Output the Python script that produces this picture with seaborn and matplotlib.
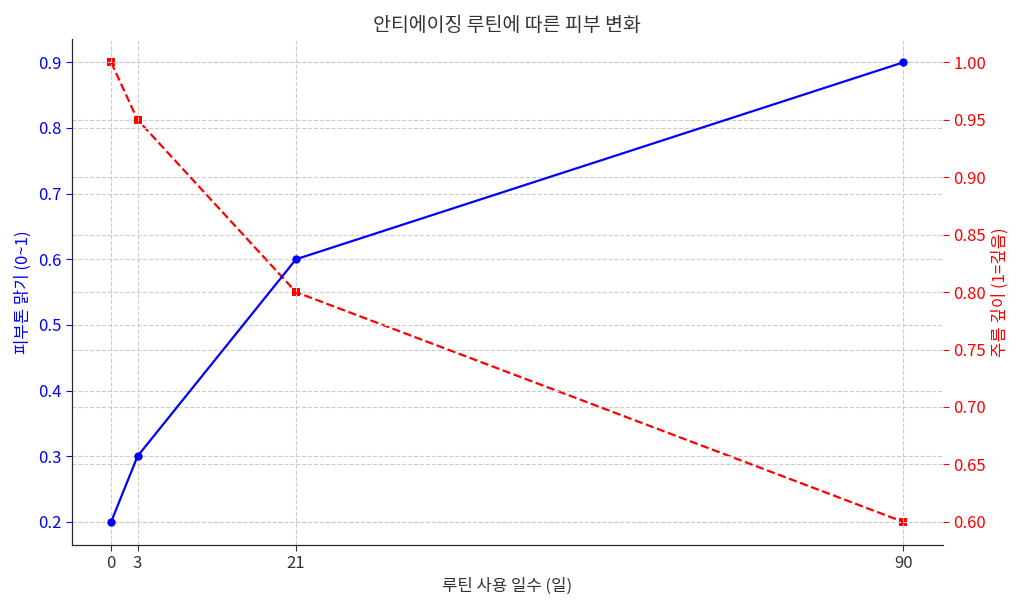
import matplotlib
matplotlib.use("Agg")
import matplotlib.pyplot as plt
import seaborn as sns
import pandas as pd

days = [0, 3, 21, 90]
brightness = [0.2, 0.3, 0.6, 0.9]
wrinkle = [1.0, 0.95, 0.8, 0.6]

sns.set_style("white")
plt.rcParams['font.family'] = ['Noto Sans CJK KR', 'DejaVu Sans']
plt.rcParams['axes.unicode_minus'] = False

df = pd.DataFrame({"day": days, "b": brightness, "w": wrinkle})
fig, ax1 = plt.subplots(figsize=(10.24, 6.1), dpi=100)
sns.lineplot(data=df, x="day", y="b", ax=ax1, color="blue", marker="o",
             markersize=6, markeredgewidth=0, linewidth=1.6)
ax1.set_xlabel("루틴 사용 일수 (일)", fontsize=12, color="#333333")
ax1.set_ylabel("피부톤 맑기 (0~1)", fontsize=12, color="blue")
ax1.tick_params(axis="y", colors="blue", labelsize=12, length=4, left=True)
ax1.tick_params(axis="x", labelsize=12, colors="#333333", length=4, bottom=True)
ax1.set_xticks(days)
ax1.grid(True, linestyle="--", color="#cccccc", linewidth=0.8)

ax2 = ax1.twinx()
sns.lineplot(data=df, x="day", y="w", ax=ax2, color="red", marker="s",
             markersize=6, markeredgewidth=0, linewidth=1.6, linestyle="--")
ax2.lines[0].set_linestyle("--")
ax2.set_ylabel("주름 깊이 (1=깊음)", fontsize=12, color="red")
ax2.tick_params(axis="y", colors="red", labelsize=12, length=4, right=True)
ax2.yaxis.set_major_formatter(matplotlib.ticker.FormatStrFormatter("%.2f"))
ax2.grid(True, axis="y", linestyle="--", color="#cccccc", linewidth=0.8)
ax2.set_xlabel("")

ax1.set_zorder(2)
ax1.patch.set_visible(False)

for a in (ax1, ax2):
    a.spines["top"].set_visible(False)
ax2.spines["right"].set_visible(False)
ax1.spines["right"].set_visible(False)

ax1.set_title("안티에이징 루틴에 따른 피부 변화", fontsize=14, color="#333333")
fig.tight_layout()
fig.savefig("out.png", dpi=100)
